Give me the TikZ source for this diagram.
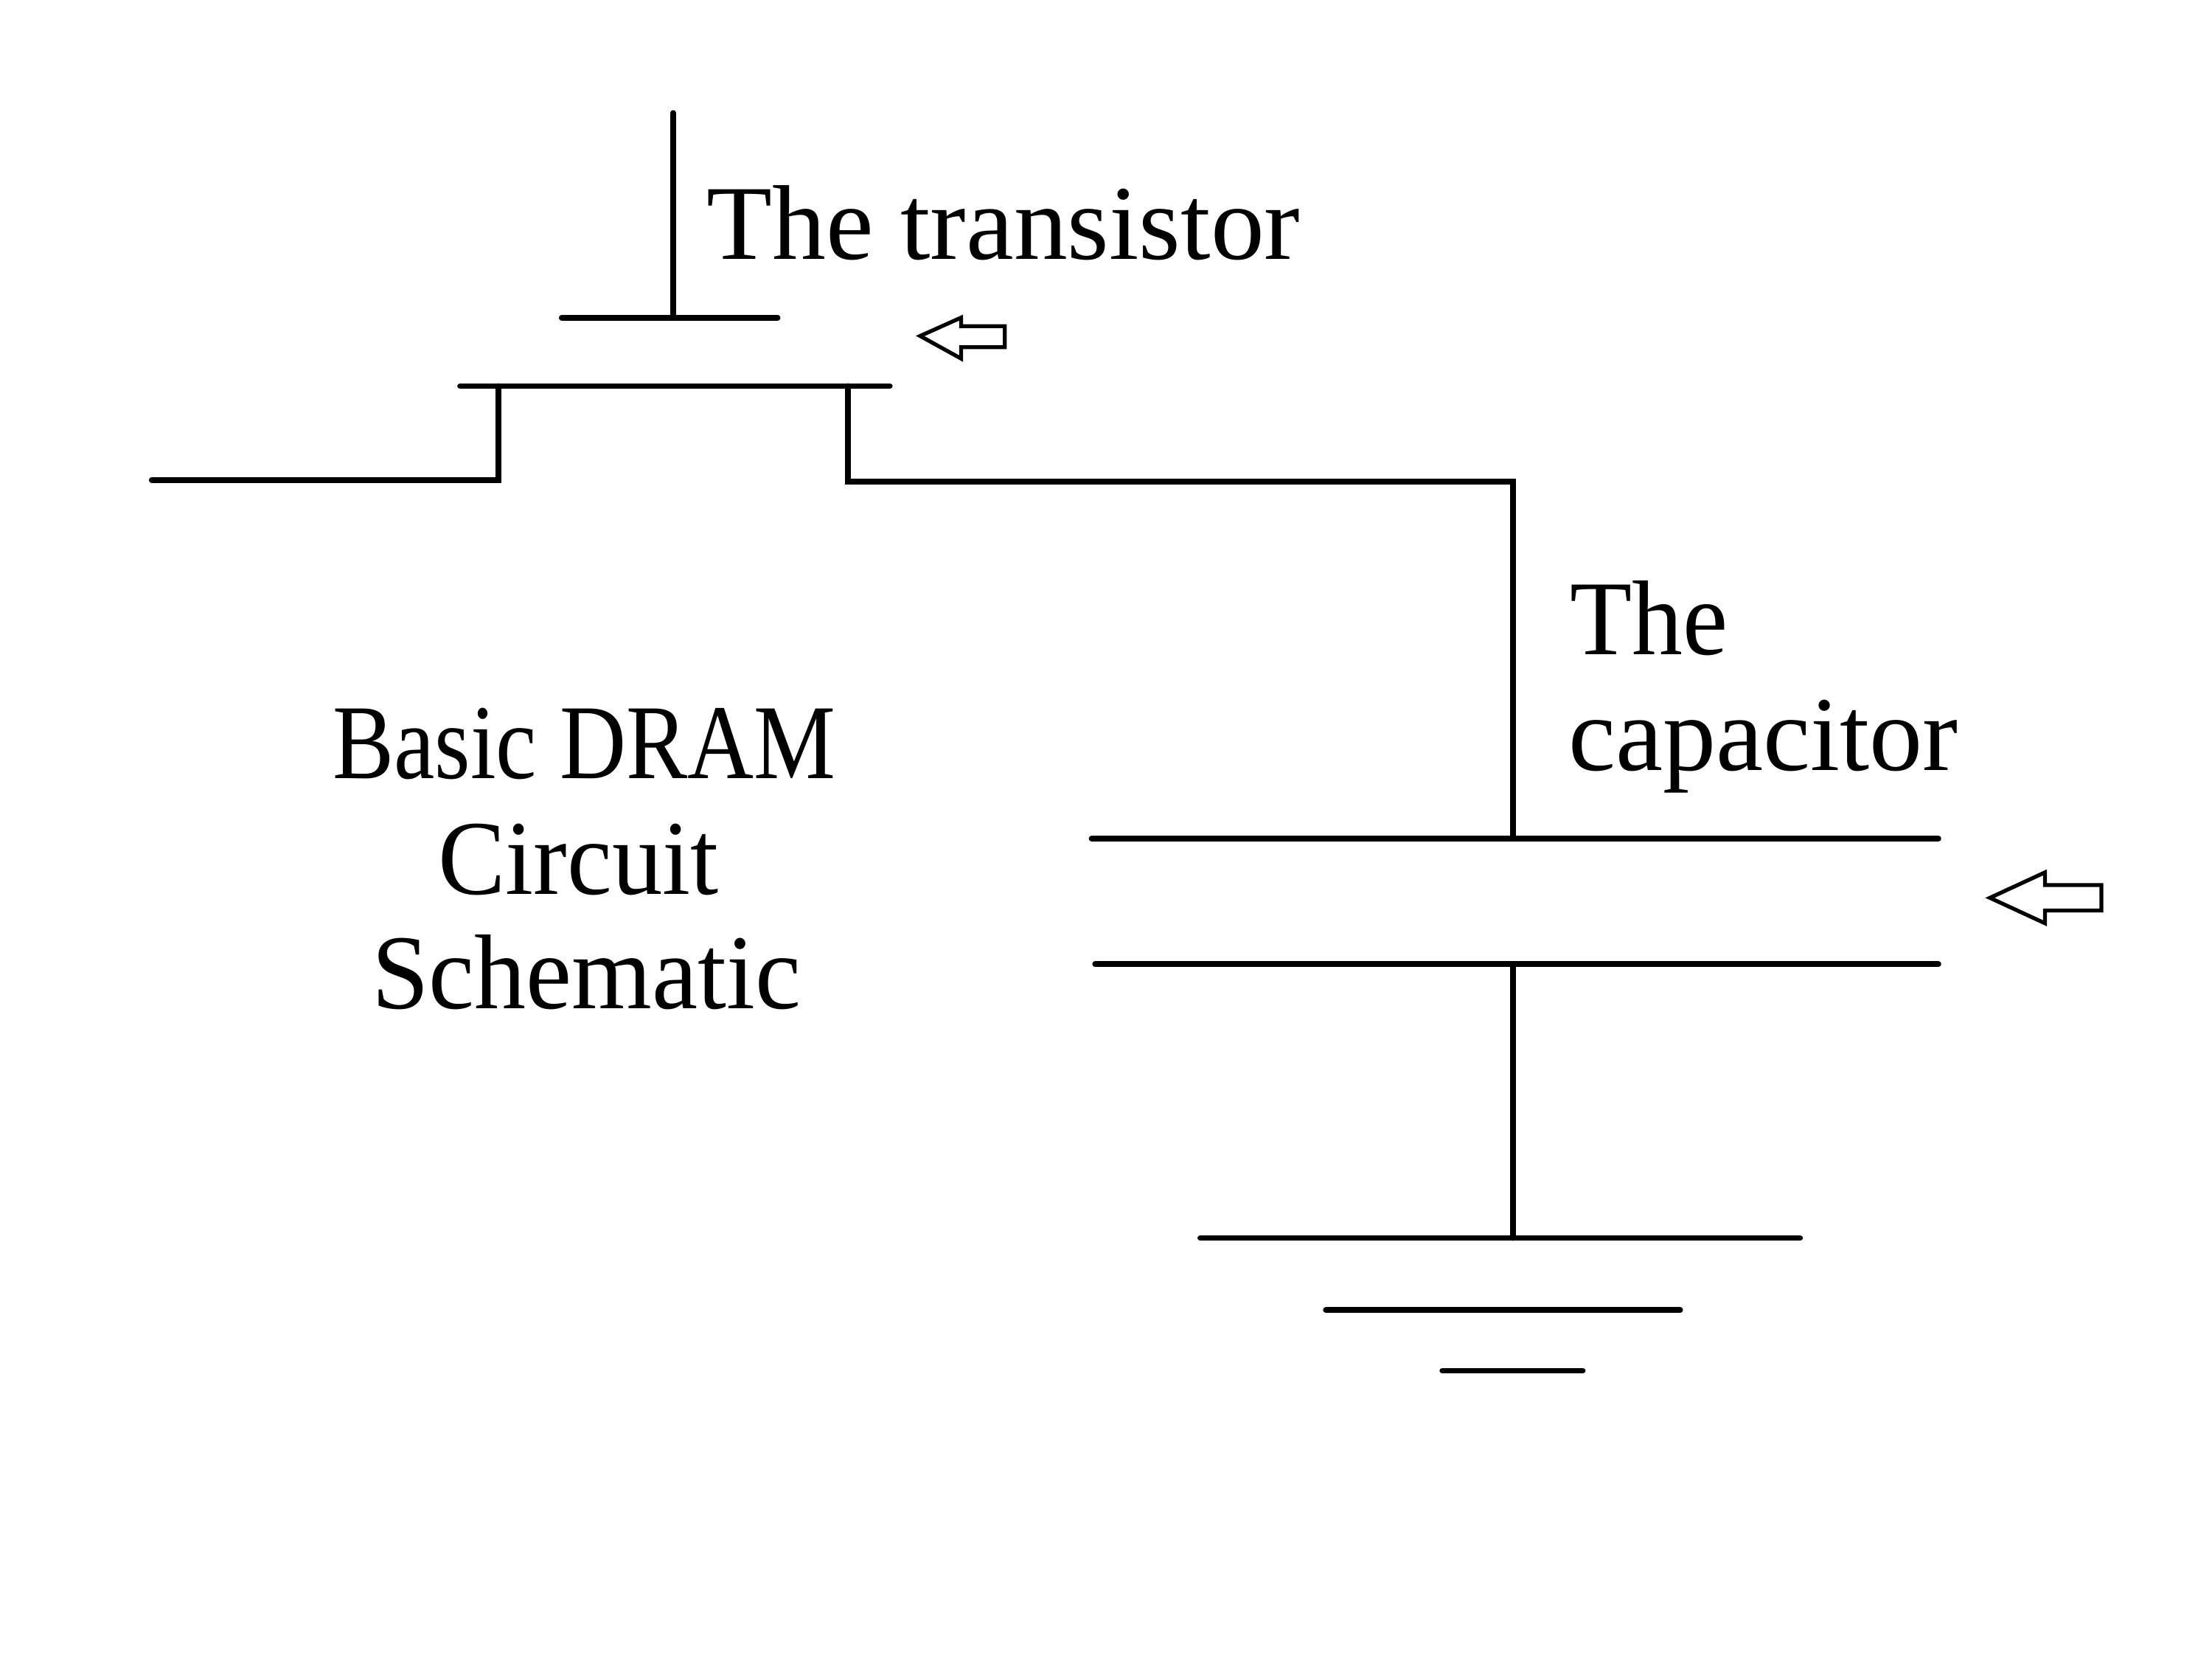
\documentclass[tikz,border=0pt]{standalone}
\usepackage{fontspec}
\setmainfont{Liberation Serif}
\usetikzlibrary{positioning}
\tikzset{
  wire/.style={line width=2.2pt, line cap=round, line join=miter, color=black},
  hollowarrow/.style={line width=1.5pt, line join=miter, draw=black, fill=white},
  lbl/.style={inner sep=0pt, font=\fontsize{41}{82}\selectfont, anchor=base west},
  lblc/.style={inner sep=0pt, font=\fontsize{41}{82}\selectfont, anchor=base}
}
\begin{document}
\begin{tikzpicture}[x=0.01914cm,y=-0.01914cm]
  \useasboundingbox (0,0) rectangle (1567.4,1174.5);

  % transistor
  \coordinate (gatetop) at (477,80);
  \coordinate (gatefoot) at (477,225);
  \coordinate (gateL) at (398,225);
  \coordinate (gateR) at (551,225);
  \coordinate (chanL) at (326,273.5);
  \coordinate (chanR) at (630.5,273.5);
  \coordinate (srcfoot) at (353,273.5);
  \coordinate (srcbend) at (353,340);
  \coordinate (bitline) at (107.5,340);
  \coordinate (drainfoot) at (601,273.5);
  \coordinate (drainbend) at (601,341);
  \draw[wire] (gatetop) -- (gatefoot);
  \draw[wire] (gateL) -- (gateR);
  \draw[wire] (chanL) -- (chanR);
  \draw[wire] (bitline) -- (srcbend) -- (srcfoot);

  % capacitor
  \coordinate (corner) at (1072,341);
  \coordinate (plateAL) at (773.5,594);
  \coordinate (plateAR) at (1373.5,594);
  \coordinate (plateAm) at (1072,594);
  \coordinate (plateBL) at (776,683);
  \coordinate (plateBR) at (1373.5,683);
  \coordinate (plateBm) at (1072,683);
  \draw[wire] (drainfoot) -- (drainbend) -- (corner) -- (plateAm);
  \draw[wire] (plateAL) -- (plateAR);
  \draw[wire] (plateBL) -- (plateBR);

  % ground
  \coordinate (gndm) at (1072,877);
  \coordinate (gndAL) at (850.5,877);
  \coordinate (gndAR) at (1275.5,877);
  \coordinate (gndBL) at (939.5,928);
  \coordinate (gndBR) at (1190.5,928);
  \coordinate (gndCL) at (1022,971);
  \coordinate (gndCR) at (1121.5,971);
  \draw[wire] (plateBm) -- (gndm);
  \draw[wire] (gndAL) -- (gndAR);
  \draw[wire] (gndBL) -- (gndBR);
  \draw[wire] (gndCL) -- (gndCR);

  % arrows
  \draw[hollowarrow] (652,238) -- (681,225) -- (681,231) -- (712,231) -- (712,246) -- (681,246) -- (681,254) -- cycle;
  \draw[hollowarrow] (1410,636) -- (1449,618) -- (1449,627) -- (1489,627) -- (1489,645) -- (1449,645) -- (1449,654) -- cycle;

  % labels
  \node[lbl] (transistor) at (500.5,183.5) {\scalebox{1.01}[1]{The transistor}};
  \node[lbl] (capA) at (1112,463.5) {\scalebox{0.955}[1]{The}};
  \node[lbl] (capB) at (1111,545.5) {capacitor};
  \node[lblc] (titleA) at (414,551.5) {\scalebox{0.865}[1]{Basic DRAM}};
  \node[lblc] (titleB) at (410,633.5) {\scalebox{0.95}[1]{Circuit}};
  \node[lblc] (titleC) at (415.5,714.5) {\scalebox{0.97}[1]{Schematic}};
\end{tikzpicture}
\end{document}
